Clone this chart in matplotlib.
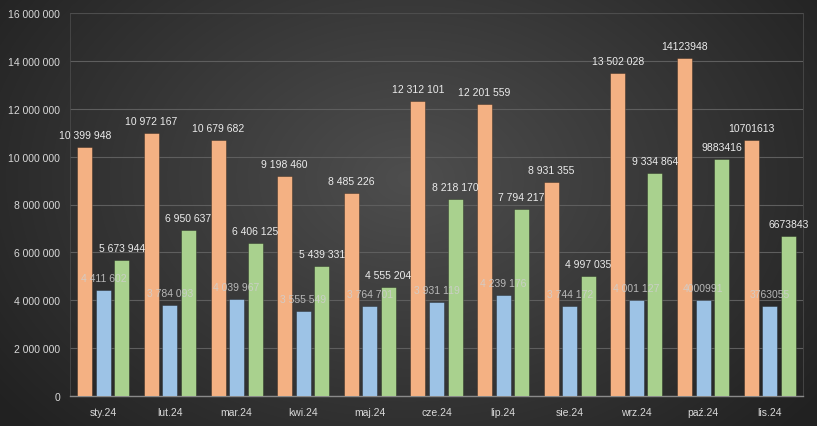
import numpy as np
import matplotlib
matplotlib.use("Agg")
import matplotlib.pyplot as plt

categories = ["sty.24", "lut.24", "mar.24", "kwi.24", "maj.24", "cze.24",
              "lip.24", "sie.24", "wrz.24", "paź.24", "lis.24"]
orange_vals = [10399948, 10972167, 10679682, 9198460, 8485226, 12312101,
               12201559, 8931355, 13502028, 14123948, 10701613]
blue_vals = [4411602, 3784093, 4039967, 3555549, 3764701, 3931119,
             4239176, 3744172, 4001127, 4000991, 3763055]
green_vals = [5673944, 6950637, 6406125, 5439331, 4555204, 8218170,
              7794217, 4997035, 9334864, 9883416, 6673843]
# whether data label uses thousands separator (as in the source)
grouped = [True, True, True, True, True, True, True, True, True, False, False]
y_ticks = [0, 2000000, 4000000, 6000000, 8000000, 10000000, 12000000, 14000000, 16000000]

plt.rcParams['font.family'] = ['Liberation Sans', 'DejaVu Sans']

W, H = 817, 427
fig = plt.figure(figsize=(W / 100, H / 100), dpi=100)

# radial gradient background
bg = fig.add_axes([0, 0, 1, 1])
yy, xx = np.mgrid[0:H, 0:W]
cx, cy = W * 0.5, H * 0.42
r = np.sqrt(((xx - cx) / (W * 0.62)) ** 2 + ((yy - cy) / (H * 0.85)) ** 2)
r = np.clip(r, 0, 1)
c_in = np.array([0x4e, 0x4e, 0x4e]) / 255
c_out = np.array([0x22, 0x22, 0x22]) / 255
img = c_in[None, None, :] * (1 - r[..., None]) + c_out[None, None, :] * r[..., None]
bg.imshow(img, aspect='auto', extent=[0, 1, 0, 1], origin='upper')
bg.set_axis_off()

ax = fig.add_axes([70 / W, 30 / H, (803 - 70) / W, (397 - 14) / H])
ax.patch.set_alpha(0)

def fmt(v, g):
    if g:
        return f"{v:,}".replace(",", " ")
    return str(v)

x = np.arange(len(categories))
bw = 0.225
off = 0.278
series = [
    (orange_vals, -off, "#F4B183", "#ececec", 1.0),
    (blue_vals, 0.0, "#9DC3E6", "#cfcfcf", 0.85),
    (green_vals, off, "#A9D18E", "#ececec", 1.0),
]
for vals, dx, col, tcol, ta in series:
    ax.bar(x + dx, vals, width=bw, color=col, edgecolor=(0, 0, 0, 0.35),
           linewidth=0.6, zorder=3)
for vals, dx, col, tcol, ta in series:
    for xi, v, g in zip(x, vals, grouped):
        ax.annotate(fmt(v, g), (xi + dx, v), xytext=(0, 8.6),
                    textcoords="offset points", ha="center", va="center",
                    fontsize=7.5, color=tcol, alpha=ta, zorder=5,
                    annotation_clip=False)

ax.set_xlim(-0.5, len(categories) - 0.5)
ax.set_ylim(0, 16000000)
ax.set_yticks(y_ticks)
ax.set_yticklabels([fmt(t, True) for t in y_ticks])
ax.set_xticks(x)
ax.set_xticklabels(categories)
ax.tick_params(axis='both', length=0, colors="#d9d9d9", labelsize=7.5)
ax.tick_params(axis='y', pad=7)
ax.tick_params(axis='x', pad=8)
ax.grid(axis='y', color="#5e5e5e", linewidth=0.8, zorder=0)
ax.set_axisbelow(True)
for s in ["left", "right", "top"]:
    ax.spines[s].set_color("#4a4a4a")
    ax.spines[s].set_linewidth(0.6)
ax.spines["bottom"].set_color("#8a8a8a")
ax.spines["bottom"].set_linewidth(1.0)

fig.savefig("out.png", dpi=100)
